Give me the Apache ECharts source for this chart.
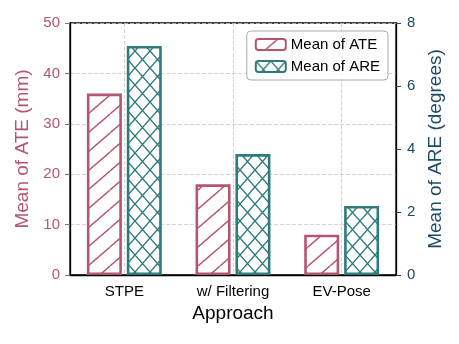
<!DOCTYPE html>
<html>
<head>
<meta charset="utf-8">
<script src="https://cdn.jsdelivr.net/npm/echarts@6/dist/echarts.min.js"></script>
<style>
  html, body { margin: 0; padding: 0; background: #fff; }
  #main { width: 459px; height: 344px; }
</style>
</head>
<body>
<div id="main"></div>
<script>
var approaches = ['STPE', 'w/ Filtering', 'EV-Pose'];
var ateValues = [36, 18, 8];        // mm
var areValues = [7.27, 3.84, 2.19]; // degrees
var ateTicks = [0, 50, 10];
var areTicks = [0, 8, 2];

var ATE_COLOR = '#b3566f';
var ARE_COLOR = '#2f7b7b';
var RIGHT_TEXT = '#1d4a64';
var FONT = '"Liberation Sans", Arial, sans-serif';

// hatch fill like matplotlib's '/' and 'x'
function makeHatch(color, w, h, cross) {
    var c = document.createElement('canvas');
    c.width = w;
    c.height = h;
    var ctx = c.getContext('2d');
    ctx.fillStyle = '#fff';
    ctx.fillRect(0, 0, w, h);
    ctx.strokeStyle = color;
    ctx.lineWidth = 1.4;
    ctx.beginPath();
    // '/' lines
    for (var k = 0; k <= 2; k++) {
        ctx.moveTo(k * w, 0);
        ctx.lineTo(k * w - w, h);
    }
    if (cross) {
        // '\' lines
        for (var j = -1; j <= 1; j++) {
            ctx.moveTo(j * w, 0);
            ctx.lineTo(j * w + w, h);
        }
    }
    ctx.stroke();
    return c;
}

var myChart = echarts.init(document.querySelector('#main'));

var option = {
    animation: false,
    textStyle: { fontFamily: FONT },
    grid: {
        left: 70,
        right: 63,
        top: 23,
        bottom: 69,
        show: true,
        borderColor: '#000',
        borderWidth: 1.3,
        backgroundColor: 'transparent',
    },
    legend: {
        orient: 'vertical',
        right: 71,
        top: 31,
        padding: [6, 8, 6, 8],
        itemGap: 7,
        itemWidth: 30,
        itemHeight: 11,
        borderColor: '#aaa',
        borderWidth: 1,
        borderRadius: 4,
        backgroundColor: 'rgba(255,255,255,0.85)',
        textStyle: { fontSize: 15, color: '#000', fontFamily: FONT },
        data: ['Mean of ATE', 'Mean of ARE'],
    },
    xAxis: {
        type: 'category',
        data: approaches,
        name: 'Approach',
        nameLocation: 'middle',
        nameGap: 29,
        nameTextStyle: { fontSize: 19, color: '#000', fontFamily: FONT },
        axisLine: { lineStyle: { color: '#000', width: 1.3 } },
        axisTick: { alignWithLabel: true, length: 5, lineStyle: { color: '#000' } },
        axisLabel: { fontSize: 15, color: '#000', margin: 9, fontFamily: FONT },
        splitLine: {
            show: true,
            alignWithLabel: true,
            lineStyle: { color: '#c8c8c8', type: [4, 2], width: 0.8 },
        },
    },
    yAxis: [
        {
            type: 'value',
            min: ateTicks[0],
            max: ateTicks[1],
            interval: ateTicks[2],
            name: 'Mean of ATE (mm)',
            nameLocation: 'middle',
            nameGap: 33,
            nameTextStyle: { fontSize: 19, color: ATE_COLOR, fontFamily: FONT },
            axisLine: { show: true, lineStyle: { color: '#000', width: 1.3 } },
            axisTick: { show: true, length: 5, lineStyle: { color: ATE_COLOR } },
            axisLabel: { fontSize: 15, color: ATE_COLOR, margin: 10, fontFamily: FONT },
            splitLine: { show: true, lineStyle: { color: '#c8c8c8', type: [4, 2], width: 0.8 } },
        },
        {
            type: 'value',
            position: 'right',
            min: areTicks[0],
            max: areTicks[1],
            interval: areTicks[2],
            name: 'Mean of ARE (degrees)',
            nameLocation: 'middle',
            nameGap: 27,
            nameRotate: 90,
            nameTextStyle: { fontSize: 19, color: RIGHT_TEXT, fontFamily: FONT },
            axisLine: { show: true, lineStyle: { color: '#000', width: 1.3 } },
            axisTick: { show: true, length: 5, lineStyle: { color: RIGHT_TEXT } },
            axisLabel: { fontSize: 15, color: RIGHT_TEXT, margin: 11, fontFamily: FONT },
            splitLine: { show: false },
        },
    ],
    series: [
        {
            name: 'Mean of ATE',
            type: 'bar',
            yAxisIndex: 0,
            data: ateValues,
            barWidth: 35,
            barGap: '14%',
            itemStyle: {
                color: { image: makeHatch(ATE_COLOR, 22, 19, false), repeat: 'repeat' },
                borderColor: ATE_COLOR,
                borderWidth: 2.6,
            },
        },
        {
            name: 'Mean of ARE',
            type: 'bar',
            yAxisIndex: 1,
            data: areValues,
            barWidth: 35,
            itemStyle: {
                color: { image: makeHatch(ARE_COLOR, 15, 17, true), repeat: 'repeat' },
                borderColor: ARE_COLOR,
                borderWidth: 2.6,
            },
        },
    ],
};

myChart.setOption(option);
</script>
</body>
</html>
